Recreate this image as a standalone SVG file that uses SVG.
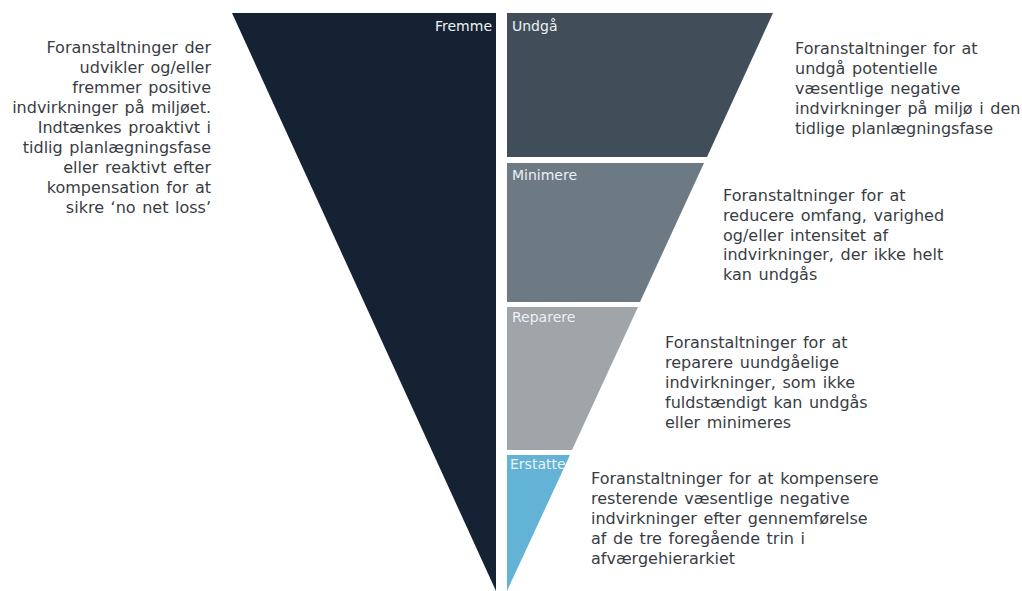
<svg xmlns="http://www.w3.org/2000/svg" width="1022" height="591" viewBox="0 0 1022 591">
  <style>
    .desc { font-family: "DejaVu Sans", Verdana, sans-serif; font-size: 16px; word-spacing: 1.5px; fill: #383d44; }
    .lbl { font-family: "DejaVu Sans", Verdana, sans-serif; font-size: 14px; fill: #eef1f4; }
  </style>
  <rect width="1022" height="591" fill="#ffffff"/>

  <!-- Left triangle: promote positive effects -->
  <g id="fremme">
    <polygon points="232,13 496,13 496,591" fill="#142233"/>
    <text class="lbl" x="492" y="31" text-anchor="end">Fremme</text>
  </g>
  <g id="fremme-text" class="desc" text-anchor="end">
    <text x="211" y="53">Foranstaltninger der</text>
    <text x="211" y="73">udvikler og/eller</text>
    <text x="211" y="93">fremmer positive</text>
    <text x="211" y="113">indvirkninger på miljøet.</text>
    <text x="211" y="133">Indtænkes proaktivt i</text>
    <text x="211" y="153">tidlig planlægningsfase</text>
    <text x="211" y="173">eller reaktivt efter</text>
    <text x="211" y="193">kompensation for at</text>
    <text x="211" y="213">sikre ʻno net lossʼ</text>
  </g>

  <!-- Right funnel: mitigation hierarchy steps -->
  <g id="undgaa">
    <polygon points="507,13 773,13 707,157 507,157" fill="#414d59"/>
    <text class="lbl" x="512" y="31">Undgå</text>
  </g>
  <g id="undgaa-text" class="desc">
    <text x="795" y="54">Foranstaltninger for at</text>
    <text x="795" y="74">undgå potentielle</text>
    <text x="795" y="94">væsentlige negative</text>
    <text x="795" y="114">indvirkninger på miljø i den</text>
    <text x="795" y="134">tidlige planlægningsfase</text>
  </g>

  <g id="minimere">
    <polygon points="507,163 704,163 640,302 507,302" fill="#6d7a84"/>
    <text class="lbl" x="512" y="180">Minimere</text>
  </g>
  <g id="minimere-text" class="desc">
    <text x="723" y="201">Foranstaltninger for at</text>
    <text x="723" y="221">reducere omfang, varighed</text>
    <text x="723" y="241">og/eller intensitet af</text>
    <text x="723" y="260">indvirkninger, der ikke helt</text>
    <text x="723" y="280">kan undgås</text>
  </g>

  <g id="reparere">
    <polygon points="507,307 638,307 572,450 507,450" fill="#a0a5aa"/>
    <text class="lbl" x="512" y="322">Reparere</text>
  </g>
  <g id="reparere-text" class="desc">
    <text x="665" y="348">Foranstaltninger for at</text>
    <text x="665" y="368">reparere uundgåelige</text>
    <text x="665" y="388">indvirkninger, som ikke</text>
    <text x="665" y="408">fuldstændigt kan undgås</text>
    <text x="665" y="428">eller minimeres</text>
  </g>

  <g id="erstatte">
    <polygon points="507,455 570,455 507,591" fill="#62b3d5"/>
    <text class="lbl" x="510" y="469">Erstatte</text>
  </g>
  <g id="erstatte-text" class="desc">
    <text x="591" y="484">Foranstaltninger for at kompensere</text>
    <text x="591" y="504">resterende væsentlige negative</text>
    <text x="591" y="524">indvirkninger efter gennemførelse</text>
    <text x="591" y="544">af de tre foregående trin i</text>
    <text x="591" y="564">afværgehierarkiet</text>
  </g>

  <!-- no connectors in this figure -->
  <g id="connectors"/>
</svg>
